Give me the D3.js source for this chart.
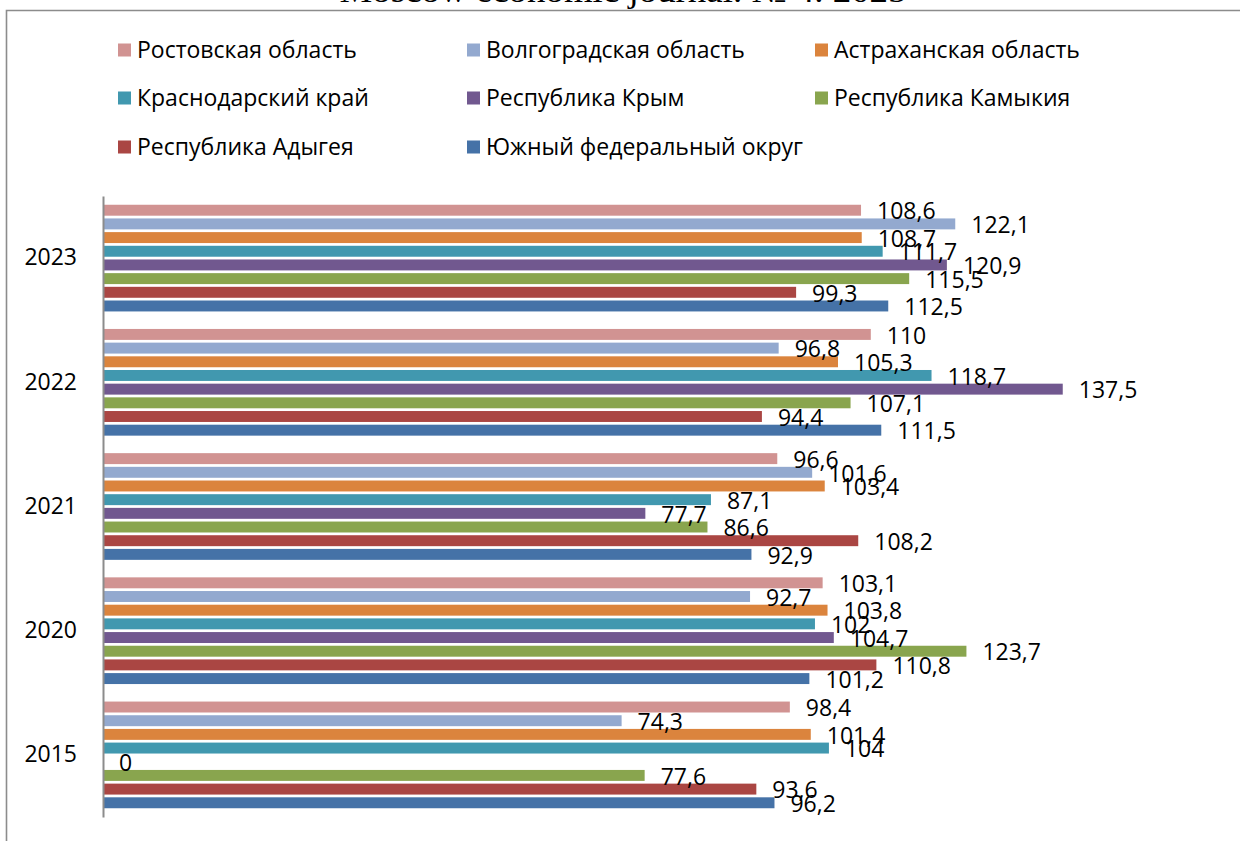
<!DOCTYPE html>
<html><head><meta charset="utf-8">
<script src="https://cdn.jsdelivr.net/npm/d3@7"></script>
<style>
html,body{margin:0;padding:0;background:#fff;}
svg{display:block;}
text{font-family:"Open Sans",sans-serif;fill:#000;}
</style></head>
<body>
<svg id="c" width="1240" height="841"></svg>
<script>
const years = ["2023","2022","2021","2020","2015"];
const series = ["Ростовская область","Волгоградская область","Астраханская область","Краснодарский край","Республика Крым","Республика Камыкия","Республика Адыгея","Южный федеральный округ"];
const colors = ["#D19392","#93A9CF","#DB843D","#4198AF","#71588F","#89A54E","#AA4643","#4572A7"];
const rostov   = [108.6,110,96.6,103.1,98.4];
const volgograd= [122.1,96.8,101.6,92.7,74.3];
const astrakhan= [108.7,105.3,103.4,103.8,101.4];
const krasnodar= [111.7,118.7,87.1,102,104];
const krym     = [120.9,137.5,77.7,104.7,0];
const kalmykia = [115.5,107.1,86.6,123.7,77.6];
const adygea   = [99.3,94.4,108.2,110.8,93.6];
const yufo     = [112.5,111.5,92.9,101.2,96.2];
const values = [rostov,volgograd,astrakhan,krasnodar,krym,kalmykia,adygea,yufo];
const journal = "Moscow economic journal. № 4. 2025";

const svg = d3.select("#c");
const fmt = v => String(v).replace(".", ",");

// frame
svg.append("path").attr("d","M6.5,841 L6.5,10.5 L1240,10.5").attr("fill","none").attr("stroke","#8c8c8c").attr("stroke-width",1.6);
svg.append("text").attr("x",623).attr("y",2).attr("text-anchor","middle")
  .style("font-family","'Liberation Serif',serif").style("font-size","34px")
  .attr("textLength",567).attr("lengthAdjust","spacingAndGlyphs").text(journal);

const x = d3.scaleLinear().domain([0,140]).range([103,103+140*6.98]);
const y0 = d3.scaleBand().domain(years).range([196,817]).padding(0);
const y1 = d3.scaleBand().domain(series).range([0,y0.bandwidth()]).paddingInner(0.2).paddingOuter(0.64);

const g = svg.append("g");
years.forEach((yr,i)=>{
  series.forEach((s,j)=>{
    const v = values[j][i];
    const yy = y0(yr)+y1(s);
    g.append("rect").attr("x",x(0)).attr("y",yy).attr("width",x(v)-x(0)).attr("height",y1.bandwidth()).attr("fill",colors[j]);
  });
});
years.forEach((yr,i)=>{
  series.forEach((s,j)=>{
    const v = values[j][i];
    const yc = y0(yr)+y1(s)+y1.bandwidth()/2;
    g.append("text").attr("x",x(v)+16).attr("y",yc+1+0.357*23).style("font-size","23px").text(fmt(v));
  });
});
// axis
const ax = svg.append("g").attr("transform","translate(103,0)").call(d3.axisLeft(y0).tickSize(0).tickPadding(26));
ax.select(".domain").attr("stroke","#8c8c8c").attr("stroke-width",2);
ax.selectAll("text").style("font-size","23px").style("font-family","'Open Sans',sans-serif").attr("fill","#000");

// legend
const legCols=[118,467,815], legRows=[50,98,147];
series.forEach((s,j)=>{
  const cx = legCols[j%3], cy = legRows[Math.floor(j/3)];
  svg.append("rect").attr("x",cx).attr("y",cy-6.5).attr("width",13).attr("height",13).attr("fill",colors[j]);
  svg.append("text").attr("x",cx+19).attr("y",cy+8).style("font-size","23px").text(s);
});
</script>
</body></html>
